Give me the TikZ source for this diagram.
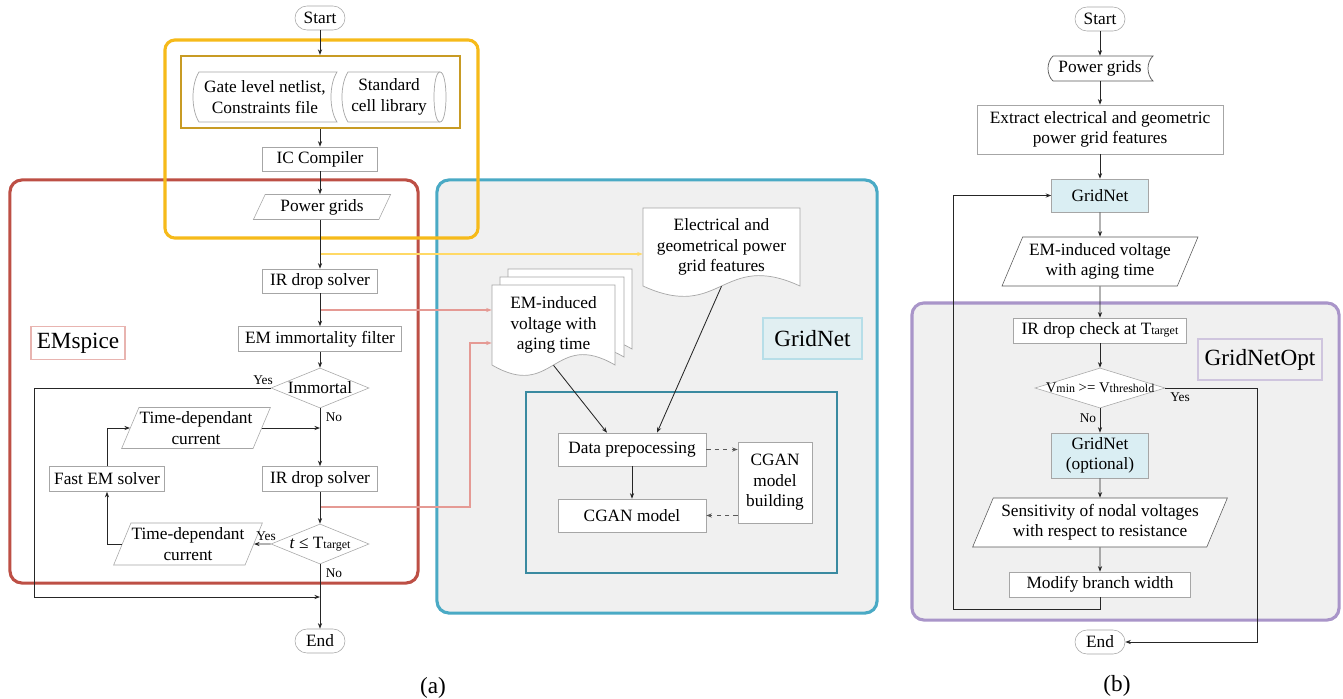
\documentclass[tikz,border=0pt]{standalone}
\usepackage{fontspec}
\setmainfont{Liberation Serif}
\usepackage{tikz}
\usepackage{xcolor}
\usetikzlibrary{shapes.geometric, arrows.meta, positioning, calc}
\definecolor{EdgeGray}{HTML}{A6A6A6}
\definecolor{DarkEdge}{HTML}{595959}
\definecolor{LineBlack}{HTML}{262626}
\definecolor{DashGray}{HTML}{595959}
\definecolor{FlowYellow}{HTML}{F6BA1A}
\definecolor{FlowGold}{HTML}{C89B24}
\definecolor{FlowRed}{HTML}{BD4F45}
\definecolor{FlowBlue}{HTML}{4AAAC5}
\definecolor{FlowTeal}{HTML}{3A8AA0}
\definecolor{FlowPurple}{HTML}{A995C9}
\definecolor{PanelGray}{HTML}{F0F0F0}
\definecolor{IceBlue}{HTML}{DAEEF3}
\definecolor{LinkYellow}{HTML}{FFD966}
\definecolor{LinkRed}{HTML}{E59A94}
\definecolor{TagRed}{HTML}{E8B4B0}
\definecolor{TagBlue}{HTML}{B7DEE8}
\definecolor{TagPurple}{HTML}{CFC5DE}
\newcommand{\subtag}[1]{{\fontsize{8.5}{8.5}\selectfont #1}}
% document shape with a wavy bottom: x1, y1, x2, y2
\newcommand{\docoutline}[4]{%
    \filldraw[storeline] (#1,#2) -- (#3,#2) -- (#3,#4)
        .. controls ({(#1+#3)/2},{#4-36}) and ({(#1+#3)/2},{#4+36}) .. (#1,#4) -- cycle;}
% stored data shape: [colour] x1, y1, x2, y2, bulge
\newcommand{\storeoutline}[6][EdgeGray]{%
    \filldraw[storeline=#1] ({#2+#6},#3) -- (#4,#3)
        .. controls ({#4-4*#6/3},{#3+(#5-#3)/4}) and ({#4-4*#6/3},{#5-(#5-#3)/4}) .. (#4,#5)
        -- ({#2+#6},#5)
        .. controls ({#2-#6/3},{#5-(#5-#3)/4}) and ({#2-#6/3},{#3+(#5-#3)/4}) .. ({#2+#6},#3) -- cycle;}
\tikzset{
    stepbox/.style={
        draw=EdgeGray,
        fill=#1,
        minimum height=0.6cm,
        inner sep=1.5pt,
        align=center,
        font=\fontsize{12.3}{14.5}\selectfont
    },
    stepbox/.default=white,
    iobox/.style={
        trapezium,
        trapezium left angle=63,
        trapezium right angle=117,
        trapezium stretches=true,
        draw=#1,
        fill=white,
        inner sep=0.5pt,
        align=center,
        font=\fontsize{12.3}{14.5}\selectfont
    },
    iobox/.default=EdgeGray,
    decision/.style={
        diamond,
        aspect=2.4,
        draw=EdgeGray,
        fill=white,
        inner sep=0pt,
        align=center,
        font=\fontsize{12.3}{14.5}\selectfont
    },
    terminal/.style={
        draw=EdgeGray,
        fill=white,
        rounded corners=0.3cm,
        minimum width=1.25cm,
        minimum height=0.6cm,
        font=\fontsize{12.3}{14.5}\selectfont
    },
    plaintext/.style={
        inner sep=0pt,
        align=center,
        font=\fontsize{12.3}{14.5}\selectfont
    },
    storeline/.style={draw=#1, fill=white, line width=0.5pt},
    storeline/.default=EdgeGray,
    group/.style={draw=#1, line width=2.2pt, rounded corners=0.3cm},
    panel/.style={draw=#1, fill=PanelGray, line width=2.2pt, rounded corners=0.3cm},
    tag/.style={draw=#1, line width=1.2pt, inner sep=4pt, font=\fontsize{16.5}{19}\selectfont},
    branch/.style={inner sep=1pt, font=\fontsize{9.5}{10}\selectfont},
    caption/.style={font=\fontsize{16.5}{19}\selectfont},
    arrow/.style={-{Stealth[length=4pt, width=3pt]}, line width=0.6pt, LineBlack},
    dasharrow/.style={arrow, DashGray, dashed},
    linkarrow/.style={arrow, line width=1pt, #1}
}
\begin{document}
\begin{tikzpicture}[x=0.025cm, y=-0.025cm]
        \fill[white] (0,0) rectangle (1343,698);
        \useasboundingbox (0,0) rectangle (1343,698);

        % Panels
        \node[panel=FlowBlue, minimum width=11cm, minimum height=10.825cm] (gridpanel) at (657,396.5) {};
        \node[panel=FlowPurple, minimum width=10.675cm, minimum height=7.925cm] (optpanel) at (1125.5,461.5) {};
        \node[group=FlowRed, minimum width=10.2cm, minimum height=10.075cm] (spicegroup) at (214,381.5) {};
        \node[group=FlowTeal, line width=1.3pt, sharp corners, minimum width=7.775cm, minimum height=4.525cm] (gancore) at (681.5,482.5) {};

        % Design inputs
        \node[terminal] (startA) at (320,18) {Start};
        \storeoutline{193}{72}{337}{122}{6}
        \node[plaintext, minimum width=3.6cm, minimum height=1.25cm] (netlist) at (265,97) {Gate level netlist,\\Constraints file};
        \filldraw[storeline] (348,72) -- (440,72) .. controls (448,72) and (448,122) .. (440,122) -- (348,122) .. controls (340,109.5) and (340,84.5) .. (348,72) -- cycle;
        \draw[storeline] (440,72) .. controls (432,72) and (432,122) .. (440,122);
        \node[plaintext] (celllib) at (389,97) {Standard\\cell library};
        \node[stepbox, minimum width=2.875cm] (icc) at (320,159) {IC Compiler};
        \node[iobox, minimum width=3.45cm, minimum height=0.625cm] (pgA) at (322,207) {Power grids};

        % EMspice flow
        \node[stepbox, minimum width=2.875cm] (irA) at (320,281) {IR drop solver};
        \node[stepbox, minimum width=4.075cm, minimum height=0.625cm] (emfilter) at (320,339) {EM immortality filter};
        \node[decision, minimum width=2.45cm, minimum height=1cm] (immortal) at (320,388) {Immortal};
        \node[iobox, minimum width=3.375cm, minimum height=1.025cm] (tdcA) at (196,428) {Time-dependant\\current};
        \node[stepbox, minimum width=2.875cm, minimum height=0.625cm] (fastem) at (107,479) {Fast EM solver};
        \node[stepbox, minimum width=2.875cm, minimum height=0.625cm] (irB) at (320,479) {IR drop solver};
        \node[decision, minimum width=2.45cm, minimum height=1cm] (tcheck) at (320,544) {\textit{t} ≤ T\subtag{target}};
        \node[iobox, minimum width=3.375cm, minimum height=1.05cm] (tdcB) at (188,544) {Time-dependant\\current};
        \node[terminal] (endA) at (320,641) {End};
        \node[tag=TagRed, fill=white, minimum width=2.25cm, minimum height=0.825cm] (emtag) at (78,343) {EMspice};
        \coordinate (yesbendA) at (34,597);
        \coordinate (joinA) at (320,597);

        % GridNet flow
        \docoutline{508}{269}{632}{349}
        \docoutline{500}{277}{624}{357}
        \docoutline{492}{285}{615}{365}
        \node[plaintext, minimum width=3.075cm, minimum height=2cm] (emdoc) at (553.5,325) {EM-induced\\voltage with\\aging time};
        \docoutline{643}{208}{800}{286}
        \node[plaintext, minimum width=3.925cm, minimum height=1.95cm] (featdoc) at (721.5,247) {Electrical and\\geometrical power\\grid features};
        \node[tag=TagBlue, fill=IceBlue!70!PanelGray, minimum width=2.475cm, minimum height=1.025cm] (gridtag) at (812.5,338.5) {GridNet};
        \node[stepbox, minimum width=3.7cm, minimum height=0.825cm] (prep) at (632,449.5) {Data prepocessing};
        \node[stepbox, minimum width=3.7cm, minimum height=0.825cm] (cgan) at (632,515.5) {CGAN model};
        \node[stepbox, minimum width=1.85cm, minimum height=2.025cm] (cganbuild) at (775,482.5) {CGAN\\model\\building};

        % Optimization flow (b)
        \node[terminal] (startB) at (1100,19) {Start};
        \storeoutline[DarkEdge]{1048}{56}{1153}{81}{5}
        \node[plaintext, minimum width=2.625cm, minimum height=0.625cm] (pgB) at (1100,68.5) {Power grids};
        \node[stepbox, minimum width=6.15cm, minimum height=1.225cm] (extract) at (1100,129.5) {Extract electrical and geometric\\power grid features};
        \node[stepbox=IceBlue, minimum width=2.425cm, minimum height=0.825cm] (gnB) at (1100,195.5) {GridNet};
        \node[iobox=DarkEdge, minimum width=4.9cm, minimum height=1.225cm] (emB) at (1100,261.5) {EM-induced voltage\\with aging time};
        \node[stepbox, minimum width=4.325cm, minimum height=0.625cm] (irchk) at (1100,330.5) {IR drop check at T\subtag{target}};
        \node[tag=TagPurple, fill=PanelGray, minimum width=3.1cm, minimum height=1.025cm] (opttag) at (1260,359.5) {GridNetOpt};
        \node[decision, aspect=3.25, inner xsep=-6pt, minimum width=3.25cm, minimum height=1cm, font=\fontsize{10.5}{12}\selectfont] (vcheck) at (1100,388) {V\subtag{min} >= V\subtag{threshold}};
        \node[stepbox=IceBlue, minimum width=2.425cm, minimum height=1.125cm] (gnopt) at (1100,455.5) {GridNet\\(optional)};
        \node[iobox=DarkEdge, minimum width=6.375cm, minimum height=1.225cm] (sens) at (1100,522.5) {Sensitivity of nodal voltages\\with respect to resistance};
        \node[stepbox, minimum width=4.525cm, minimum height=0.625cm] (modify) at (1100,584.5) {Modify branch width};
        \node[terminal] (endB) at (1100,642) {End};
        \coordinate (loopB) at (953,609);
        \coordinate (yesB) at (1257,642);

        % Groups over the design inputs
        \node[group=FlowGold, line width=1.5pt, sharp corners, minimum width=6.975cm, minimum height=1.8cm] (libgroup) at (320.5,92) {};
        \node[group=FlowYellow, rounded corners=0.25cm, minimum width=7.825cm, minimum height=4.95cm] (designgroup) at (321.5,139) {};

        % Links into GridNet
        \coordinate (tapY) at (320,254);
        \coordinate (tapR1) at (320,310);
        \coordinate (tapR2) at (320,507);
        \coordinate (bendR) at (470,343);
        \draw[linkarrow=LinkYellow] (tapY) -- (tapY -| featdoc.west);
        \draw[linkarrow=LinkRed] (tapR1) -- (tapR1 -| emdoc.west);
        \draw[linkarrow=LinkRed] (tapR2) -| (bendR) -- (bendR -| emdoc.west);

        % Arrows (a)
        \draw[arrow] (startA.south) -- (startA.south |- libgroup.north);
        \draw[arrow] (icc.north |- libgroup.south) -- (icc.north);
        \draw[arrow] (icc.south) -- (icc.south |- pgA.north);
        \draw[arrow] (irA.north |- pgA.south) -- (irA.north);
        \draw[arrow] (irA) -- (emfilter);
        \draw[arrow] (emfilter) -- (immortal);
        \draw[arrow] (immortal) -- (irB);
        \draw[arrow] (irB) -- (tcheck);
        \draw[arrow] (tcheck) -- (endA);
        \draw[arrow] (immortal.west) -| (yesbendA) -- (joinA);
        \draw[arrow] (fastem.north) |- (tdcA.west);
        \draw[arrow] (tdcA.east) -- (tdcA.east -| irB.north);
        \draw[arrow] (tcheck.west) -- (tdcB.east);
        \draw[arrow] (tdcB.west) -| (fastem.south);
        \node[branch] (yesimm) at (263,380) {Yes};
        \node[branch] (noimm) at (334,417) {No};
        \node[branch] (yest) at (266,536) {Yes};
        \node[branch] (not) at (334,573) {No};

        % Arrows in GridNet
        \draw[arrow] (emdoc.south) -- ([xshift=-0.625cm]prep.north);
        \draw[arrow] (featdoc.south) -- ([xshift=0.625cm]prep.north);
        \draw[arrow] (prep) -- (cgan);
        \draw[dasharrow] (prep.east) -- (prep.east -| cganbuild.west);
        \draw[dasharrow] (cganbuild.west |- cgan.east) -- (cgan.east);

        % Arrows (b)
        \draw[arrow] (startB) -- (pgB);
        \draw[arrow] (pgB) -- (extract);
        \draw[arrow] (extract) -- (gnB);
        \draw[arrow] (gnB) -- (emB);
        \draw[arrow] (emB) -- (irchk);
        \draw[arrow] (irchk) -- (vcheck);
        \draw[arrow] (vcheck) -- (gnopt);
        \draw[arrow] (gnopt) -- (sens);
        \draw[arrow] (sens) -- (modify);
        \draw[arrow] (modify.south) |- (loopB) |- (gnB.west);
        \draw[arrow] (vcheck.east) -| (yesB) -- (endB.east);
        \node[branch] (yesv) at (1180,397) {Yes};
        \node[branch] (nov) at (1088,418) {No};

        % Captions
        \node[caption] (capA) at (433,688) {(a)};
        \node[caption] (capB) at (1117,686) {(b)};
    \end{tikzpicture}
\end{document}
